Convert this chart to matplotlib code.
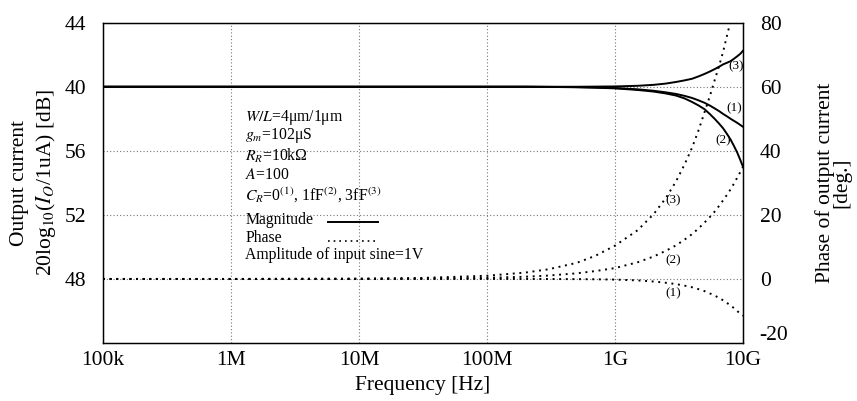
import matplotlib
matplotlib.use('Agg')
import matplotlib.pyplot as plt
import matplotlib.transforms as mtransforms
import numpy as np

plt.rcParams['font.family'] = ['Liberation Serif', 'DejaVu Serif']
plt.rcParams['mathtext.fontset'] = 'stix'

# Frequencies [Hz]
freq = [1e5, 1e6, 1e7, 3e7, 1e8, 2e8, 3e8, 5e8, 7e8, 1e9, 1.5e9, 2e9, 2.5e9,
        3e9, 3.5e9, 4e9, 4.5e9, 5e9, 5.5e9, 6e9, 6.5e9, 7e9, 7.5e9, 8e9,
        8.5e9, 9e9, 9.5e9, 1e10]

# Magnitude [dB] for C_R = 0 (1), 1fF (2), 3fF (3)
mag1 = [40.0, 40.0, 40.0, 40.0, 40.0, 40.0, 39.99, 39.98, 39.96, 39.92, 39.84,
        39.75, 39.65, 39.55, 39.43, 39.3, 39.15, 39.0, 38.83, 38.65, 38.48,
        38.3, 38.15, 38.0, 37.87, 37.75, 37.62, 37.5]
mag2 = [40.0, 40.0, 40.0, 40.0, 40.0, 40.0, 39.99, 39.97, 39.94, 39.9, 39.8,
        39.7, 39.58, 39.45, 39.27, 39.05, 38.83, 38.6, 38.3, 38.0, 37.7,
        37.4, 37.05, 36.7, 36.3, 35.9, 35.45, 35.0]
mag3 = [40.0, 40.0, 40.0, 40.0, 40.0, 40.0, 40.0, 40.0, 40.01, 40.02, 40.06,
        40.12, 40.2, 40.3, 40.4, 40.5, 40.65, 40.8, 40.95, 41.1, 41.25,
        41.4, 41.5, 41.6, 41.75, 41.9, 42.05, 42.25]

# Phase [deg]
ph1 = [0.0, 0.0, 0.0, 0.0, 0.0, 0.0, -0.02, -0.05, -0.1, -0.2, -0.45,
       -0.8, -1.2, -1.6, -2.1, -2.6, -3.2, -3.8, -4.5, -5.2, -5.9,
       -6.7, -7.5, -8.3, -9.1, -10.0, -10.8, -11.5]
ph2 = [0.0, 0.0, 0.03, 0.1, 0.35, 0.7, 1.05, 1.75, 2.45, 3.4, 5.2,
       7.0, 8.8, 10.5, 12.3, 14.0, 15.8, 17.6, 19.3, 21.0, 22.8,
       24.6, 26.3, 28.0, 29.8, 31.6, 33.3, 35.0]
ph3 = [0.0, 0.0, 0.1, 0.3, 1.0, 2.0, 3.0, 5.0, 7.2, 10.4, 15.2,
       20.2, 25.3, 30.5, 35.8, 41.0, 46.5, 52.0, 57.0, 62.0, 66.5,
       71.0, 76.0, 80.5, 85.0, 89.5, 94.0, 98.5]

xticks = [1e5, 1e6, 1e7, 1e8, 1e9, 1e10]
xticklabels = ['100k', '1M', '10M', '100M', '1G', '10G']
yticks_left = [44, 40, 36, 32, 28]
yticklabels_left = ['44', '40', '56', '52', '48']
yticks_right = [80, 60, 40, 20, 0, -20]

dotted = (0, (1.0, 2.4))

fig = plt.figure(figsize=(8.57, 4.01), dpi=100)
ax = fig.add_axes([0.1202, 0.1446, 0.7468, 0.7988])
ax2 = ax.twinx()

ax.set_xscale('log')
ax.set_xlim(1e5, 1e10)
ax.set_ylim(24, 44)
ax2.set_ylim(-20, 80)

ax.plot(freq, mag1, color='black', lw=1.4)
ax.plot(freq, mag2, color='black', lw=1.4)
ax.plot(freq, mag3, color='black', lw=1.4)
ax2.plot(freq, ph1, color='black', lw=1.4, linestyle=dotted)
ax2.plot(freq, ph2, color='black', lw=1.4, linestyle=dotted)
ax2.plot(freq, ph3, color='black', lw=1.4, linestyle=dotted)

ax.set_xticks(xticks)
ax.set_xticklabels(xticklabels)
ax.minorticks_off()
ax.set_yticks(yticks_left)
ax.set_yticklabels(yticklabels_left)
ax2.set_yticks(yticks_right)
ax2.set_yticklabels([str(v) for v in yticks_right])

ax.tick_params(axis='both', length=0, labelsize=15.5, pad=12)
ax.tick_params(axis='x', pad=6)
ax2.tick_params(axis='y', length=0, labelsize=15.5, pad=12)
# lift the -20 label a bit like in the original
for lab in ax2.get_yticklabels():
    if lab.get_text() == '-20':
        lab.set_transform(lab.get_transform() +
                          mtransforms.ScaledTranslation(0, 0.1, fig.dpi_scale_trans))

ax.grid(True, which='major', axis='x', color='#777777', linestyle=(0, (1, 2)), lw=0.8)
ax.grid(True, which='major', axis='y', color='#777777', linestyle=(0, (1, 2)), lw=0.8)
ax.set_axisbelow(True)
for s in ax.spines.values():
    s.set_linewidth(1.0)

ax.set_xlabel('Frequency [Hz]', fontsize=15.5, labelpad=4)
ax.set_ylabel('Output current\n20log$_{10}$($I_O$/1uA) [dB]', fontsize=15.5,
              linespacing=1.3, labelpad=5)
ax2.set_ylabel('Phase of output current\n[deg.]', fontsize=15.5,
               linespacing=0.85, labelpad=19)

# parameter notes
notes = ['$W/L$=4μm/1μm', '$g_m$=102μS', '$R_R$=10kΩ', '$A$=100',
         '$C_R$=0$^{\\mathrm{(1)}}$, 1fF$^{\\mathrm{(2)}}$, 3fF$^{\\mathrm{(3)}}$',
         'Magnitude', 'Phase', 'Amplitude of input sine=1V']
note_y = [0.705, 0.647, 0.583, 0.525, 0.46, 0.384, 0.328, 0.275]
for t, yy in zip(notes, note_y):
    ax.text(0.222, yy, t, transform=ax.transAxes, fontsize=11.3, va='center', ha='left')
ax.plot([0.351, 0.429], [0.377, 0.377], transform=ax.transAxes, color='black', lw=1.4)
ax.plot([0.351, 0.425], [0.317, 0.317], transform=ax.transAxes, color='black', lw=1.2,
        linestyle=(0, (1, 2.4)))

# curve labels
lab_kw = dict(fontsize=9.5, ha='center', va='center')
ax.text(0.989, 0.863, '(3)', transform=ax.transAxes, **lab_kw)
ax.text(0.987, 0.734, '(1)', transform=ax.transAxes, **lab_kw)
ax.text(0.969, 0.634, '(2)', transform=ax.transAxes, **lab_kw)
ax.text(0.8906, 0.447, '(3)', transform=ax.transAxes, **lab_kw)
ax.text(0.8906, 0.259, '(2)', transform=ax.transAxes, **lab_kw)
ax.text(0.8906, 0.156, '(1)', transform=ax.transAxes, **lab_kw)

fig.savefig('out.png', dpi=100)
